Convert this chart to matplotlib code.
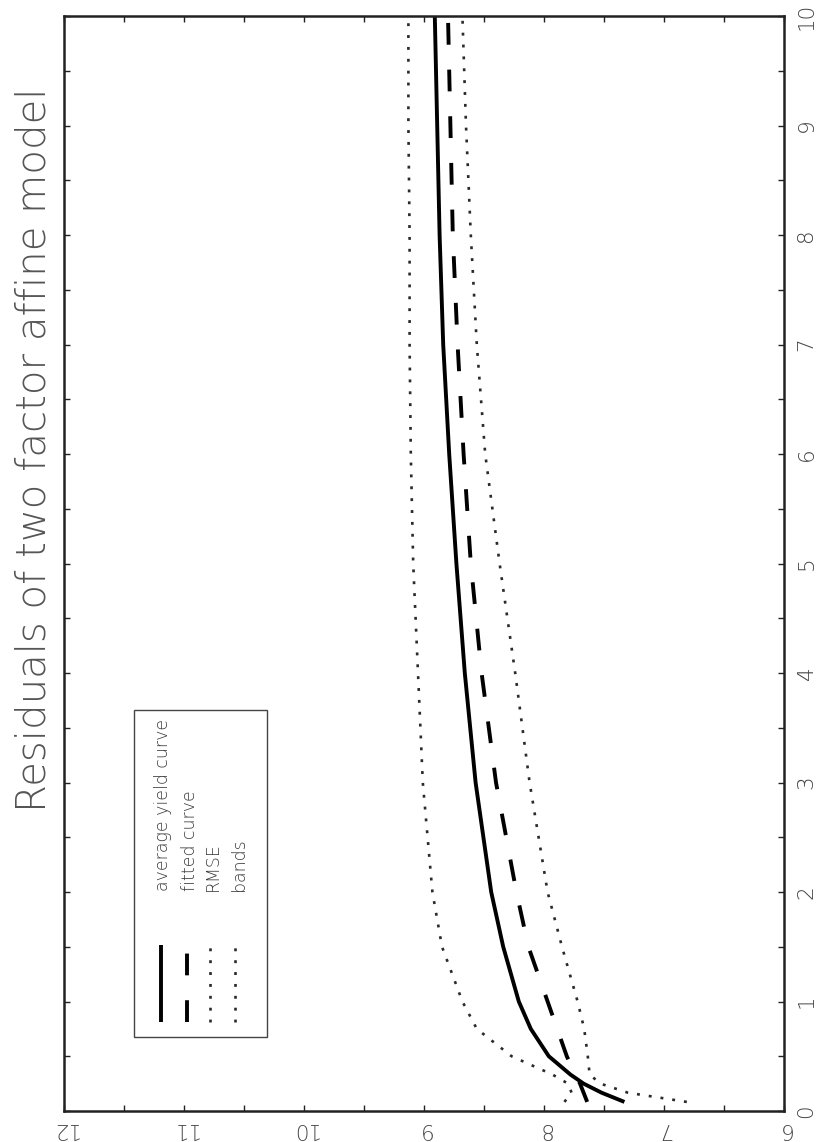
import numpy as np
import matplotlib
matplotlib.use("Agg")
import matplotlib.pyplot as plt
from matplotlib.lines import Line2D
from matplotlib.patches import Rectangle
from matplotlib import font_manager

W, H = 823, 1142

# maturities in years and yields in percent
maturity = [0.083, 0.167, 0.25, 0.333, 0.5, 0.75, 1, 1.5, 2, 3, 4, 5, 6, 7, 8, 9, 10]
avg_yield = [7.33, 7.52, 7.67, 7.78, 7.96, 8.11, 8.21, 8.34, 8.44, 8.57, 8.66, 8.73, 8.79, 8.84, 8.87, 8.89, 8.91]
fitted = [7.64, 7.67, 7.70, 7.74, 7.81, 7.89, 7.97, 8.13, 8.23, 8.40, 8.52, 8.61, 8.67, 8.72, 8.76, 8.78, 8.80]
band_hi = [7.83, 7.77, 7.80, 7.93, 8.27, 8.56, 8.68, 8.85, 8.93, 9.01, 9.05, 9.09, 9.11, 9.12, 9.12, 9.13, 9.13]
band_lo = [6.81, 7.30, 7.53, 7.62, 7.635, 7.665, 7.72, 7.85, 7.97, 8.12, 8.24, 8.37, 8.49, 8.56, 8.61, 8.65, 8.68]

yield_ticks = np.arange(6, 12.01, 0.5)
mat_ticks = np.arange(0, 10.01, 0.5)
legend_labels = ["average yield curve", "fitted curve", "RMSE", "bands"]
title = "Residuals of two factor affine model"

# thin lettering if a light face is around
weights = {f.weight for f in font_manager.fontManager.ttflist if f.name == "DejaVu Sans"}
thin = "light" if any(w in (200, 300, "light", "extra light", "ultralight") for w in weights) else "normal"
plt.rcParams["font.family"] = ["DejaVu Sans"]

ink = "#3a3a3a"
solid_kw = dict(color="black", lw=2.8, solid_capstyle="butt")
dash_kw = dict(color="black", lw=2.8, linestyle=(0, (5.6, 6.4)), dash_capstyle="butt")
dot_kw = dict(color="#2a2a2a", lw=1.9, linestyle=(0, (1.1, 3.4)), dash_capstyle="butt")


def fx(px):
    return px / W


def fy(py):
    return 1 - py / H


fig = plt.figure(figsize=(W / 100, H / 100), dpi=100)
fig.patch.set_facecolor("white")

# page is turned on its side: yields run right to left, maturity upwards
ax = fig.add_axes([fx(64), fy(1111), fx(784) - fx(64), fy(16) - fy(1111)])
ax.plot(avg_yield, maturity, **solid_kw)
ax.plot(fitted, maturity, **dash_kw)
ax.plot(band_hi, maturity, **dot_kw)
ax.plot(band_lo, maturity, **dot_kw)

ax.set_xlim(12, 6)
ax.set_ylim(0, 10)
ax.set_xticks(yield_ticks)
ax.set_xticklabels([str(int(v)) if v == int(v) else "" for v in yield_ticks])
ax.set_yticks(mat_ticks)
ax.set_yticklabels([str(int(v)) if v == int(v) else "" for v in mat_ticks])
ax.tick_params(axis="both", which="both", direction="in", length=4, width=1,
               top=True, bottom=True, left=True, right=True,
               labelleft=False, labelright=True, labelbottom=True,
               labelsize=15.5, labelcolor="#444444", color="#222222")
ax.tick_params(axis="x", labelrotation=180, pad=6)
ax.tick_params(axis="y", labelrotation=90, pad=9)
for lab in ax.get_yticklabels() + ax.get_xticklabels():
    lab.set_fontweight(thin)
for lab in ax.get_yticklabels():
    lab.set_va("center")
for sp in ax.spines.values():
    sp.set_linewidth(1.8)
    sp.set_color("#222222")

# legend box with upright samples
fig.add_artist(Rectangle((fx(134), fy(1037)), fx(267) - fx(134), fy(710) - fy(1037),
                         transform=fig.transFigure, fill=False, lw=1.0, ec="#444444"))
line_cols = [161, 187, 210, 235]
text_cols = [163, 190, 213, 239]
styles = [solid_kw, dash_kw, dot_kw, dot_kw]
for lx, tx, kw, lab in zip(line_cols, text_cols, styles, legend_labels):
    fig.add_artist(Line2D([fx(lx), fx(lx)], [fy(1022), fy(945)],
                          transform=fig.transFigure, **kw))
    fig.text(fx(tx), fy(891), lab, rotation=90, ha="center", va="bottom",
             fontsize=12.5, color=ink, fontweight=thin)

fig.text(fx(34), fy(450), title, rotation=90, ha="center", va="center",
         fontsize=29, color="#555555", fontweight=thin)

fig.savefig("out.png", dpi=100)
